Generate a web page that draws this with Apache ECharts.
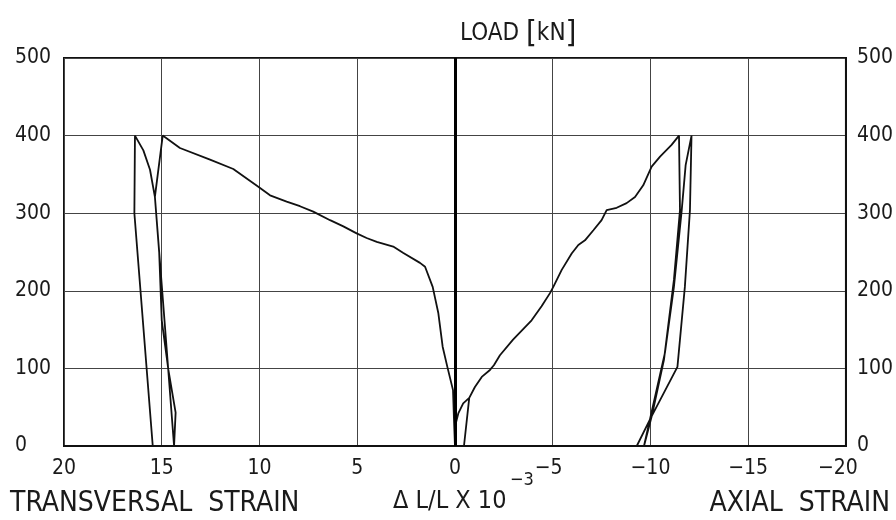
<!DOCTYPE html>
<html>
<head>
<meta charset="utf-8">
<script src="https://cdn.jsdelivr.net/npm/echarts@6/dist/echarts.min.js"></script>
<style>
html,body{margin:0;padding:0;background:#fff;}
#c{width:896px;height:520px;}
</style>
</head>
<body>
<div id="c"></div>
<script>
// ---- data ----
const xTicks = [20, 15, 10, 5, 0, -5, -10, -15, -20];
const yTicks = [0, 100, 200, 300, 400, 500];

const transStrain = [0, 0.05, 0.1, 0.39, 0.63, 0.85, 1.14, 1.53, 1.79, 2.66, 3.16, 4.0, 4.52, 5.03, 5.71, 6.39, 7.25, 7.93, 8.61, 9.46, 10.06, 11.34, 12.53, 14.07, 14.95, 15.35, 14.86, 14.37, 14.29, 14.66, 15.0, 15.13, 15.35, 15.6, 15.94, 16.37, 16.4, 15.46];
const transLoad   = [0, 34, 72, 102, 128, 171, 205, 231, 236, 249, 257, 263, 268, 274, 283, 291, 302, 309, 315, 323, 334, 357, 369, 384, 400, 321, 162, 0, 43, 98, 162, 249, 321, 356, 381, 400, 300, 0];

const axialStrain = [0, -0.05, -0.17, -0.42, -0.73, -0.46, -0.73, -1.02, -1.37, -1.79, -1.99, -2.3, -2.97, -3.92, -4.43, -4.86, -5.03, -5.46, -5.97, -6.31, -6.65, -7.08, -7.5, -7.76, -8.27, -8.78, -9.21, -9.63, -10.06, -10.49, -11.08, -11.46, -11.51, -11.2, -10.69, -10.08, -9.67, -9.97, -10.74, -11.2, -11.6, -11.8, -12.1, -12.02, -11.76, -11.38, -9.97, -9.3];
const axialLoad   = [0, 30, 42, 55, 62, 0, 62, 76, 89, 98, 104, 117, 137, 162, 180, 197, 205, 227, 248, 259, 265, 278, 291, 304, 307, 313, 321, 336, 360, 373, 388, 400, 304, 214, 111, 40, 0, 34, 120, 205, 304, 362, 400, 304, 205, 102, 34, 0];

const FONT = "'Liberation Sans Narrow', 'DejaVu Sans Condensed', 'Liberation Sans', sans-serif";
const INK = '#1a1a1a';

function pairs(xs, ys){ return xs.map((x,i)=>[x, ys[i]]); }

const chart = echarts.init(document.getElementById('c'), null, {renderer:'canvas'});

const yAxisCommon = {
  type:'value', min: yTicks[0], max: yTicks[yTicks.length-1], interval: 100,
  axisLine:{show:true, lineStyle:{color:'#111', width:2}},
  axisTick:{show:false},
  splitLine:{show:true, lineStyle:{color:'#444', width:1}},
  axisLabel:{color:INK, fontFamily:FONT, fontSize:21}
};

chart.setOption({
  animation:false,
  backgroundColor:'#fff',
  grid:{left:64, right:50, top:58, bottom:74, show:true, borderColor:'#111', borderWidth:2, backgroundColor:'transparent'},
  xAxis:{
    type:'value', min:-20, max:20, interval:5, inverse:true,
    axisLine:{show:true, onZero:false, lineStyle:{color:'#111', width:2}},
    axisTick:{show:false},
    splitLine:{show:true, lineStyle:{color:'#444', width:1}},
    axisLabel:{
      color:INK, fontFamily:FONT, fontSize:21, margin:12,
      formatter:function(v){
        const s = String(v).replace('-', '\u2212');
        if (v === -20) return '{r|' + s + '}';
        if (v === -5) return '{m|' + s + '}';
        return s;
      },
      rich:{
        r:{fontFamily:FONT, fontSize:21, color:INK, padding:[0,16,0,0]},
        m:{fontFamily:FONT, fontSize:21, color:INK, padding:[0,8,0,0]}
      }
    }
  },
  yAxis:[
    Object.assign({}, yAxisCommon, {position:'left', axisLabel:Object.assign({}, yAxisCommon.axisLabel, {margin:49, align:'left'})}),
    Object.assign({}, yAxisCommon, {position:'right', splitLine:{show:false}, axisLabel:Object.assign({}, yAxisCommon.axisLabel, {margin:11})})
  ],
  series:[
    {
      name:'Transversal', type:'line', data:pairs(transStrain, transLoad),
      showSymbol:false, symbol:'none', smooth:false,
      lineStyle:{color:'#111', width:1.8},
      markLine:{
        silent:true, symbol:['none','none'], label:{show:false},
        lineStyle:{color:'#000', width:3, type:'solid'},
        data:[{xAxis:0}]
      }
    },
    {
      name:'Axial', type:'line', data:pairs(axialStrain, axialLoad),
      showSymbol:false, symbol:'none', smooth:false,
      lineStyle:{color:'#111', width:1.8}
    }
  ],
  graphic:[
    {type:'text', left:460, top:18, style:{
      text:'LOAD {b|[}kN{b|]}', font:'24px ' + FONT, fill:INK,
      rich:{b:{fontFamily:FONT, fontSize:31, fill:INK}}
    }},
    {type:'text', left:10, top:490, style:{text:'TRANSVERSAL  STRAIN', font:'28px ' + FONT, fill:INK}},
    {type:'text', left:393, top:489, style:{text:'\u0394 L/L X 10', font:'25px ' + FONT, fill:INK}},
    {type:'text', left:510, top:471, style:{text:'\u22123', font:'18px ' + FONT, fill:INK}},
    {type:'text', right:6, top:490, style:{text:'AXIAL  STRAIN', font:'28px ' + FONT, fill:INK}}
  ]
});
</script>
</body>
</html>
